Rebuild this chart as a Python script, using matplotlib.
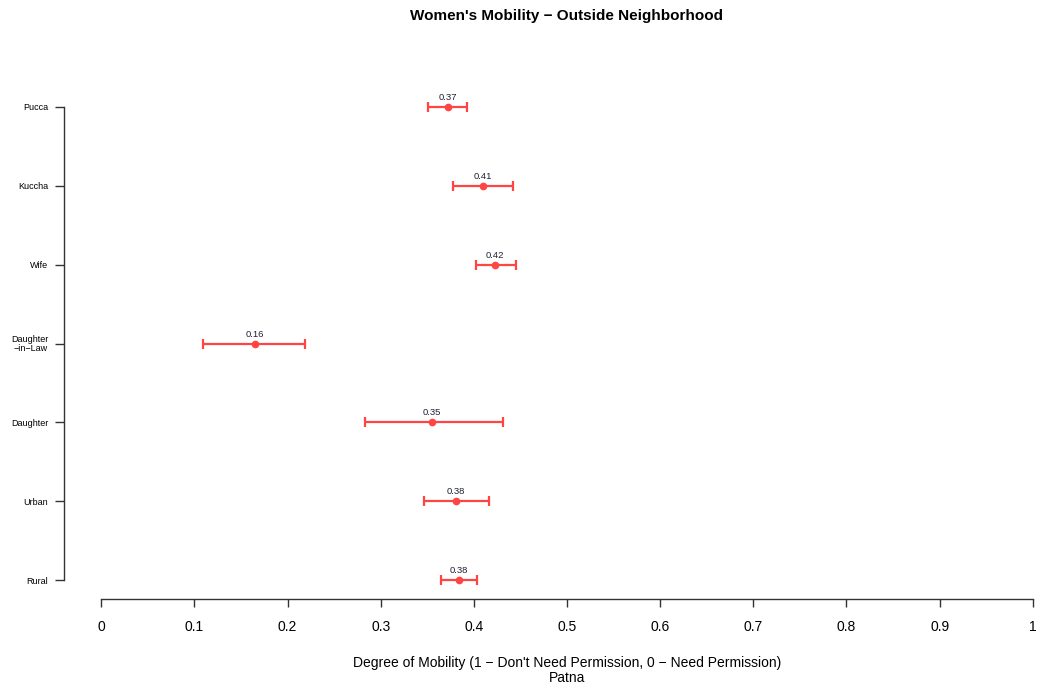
import matplotlib
matplotlib.use("Agg")
import matplotlib.pyplot as plt

plt.rcParams['font.family'] = ['Liberation Sans', 'DejaVu Sans']

categories = ["Rural", "Urban", "Daughter", "Daughter\n\u2212in\u2212Law", "Wife", "Kuccha", "Pucca"]
means = [0.384, 0.381, 0.355, 0.165, 0.423, 0.410, 0.372]
lower = [0.365, 0.346, 0.283, 0.109, 0.402, 0.378, 0.351]
upper = [0.403, 0.416, 0.431, 0.219, 0.445, 0.442, 0.393]
value_labels = ["0.38", "0.38", "0.35", "0.16", "0.42", "0.41", "0.37"]
xticks = [0, 0.1, 0.2, 0.3, 0.4, 0.5, 0.6, 0.7, 0.8, 0.9, 1]
xtick_labels = ["0", "0.1", "0.2", "0.3", "0.4", "0.5", "0.6", "0.7", "0.8", "0.9", "1"]

W, H = 1039, 685
fig = plt.figure(figsize=(W / 100, H / 100), dpi=100)
ax = fig.add_axes([64 / W, (H - 599) / H, 1006 / W, (599 - 88) / H])

ypos = list(range(1, len(categories) + 1))
red = '#ff4444'
for y, m, lo, hi, lab in zip(ypos, means, lower, upper, value_labels):
    ax.errorbar([m], [y], xerr=[[m - lo], [hi - m]], fmt='o', color=red,
                ms=4.5, elinewidth=1.6, capsize=3.4, capthick=1.6)
    ax.annotate(lab, (m, y), xytext=(0, 3.5), textcoords='offset points',
                ha='center', va='bottom', fontsize=6.8, color='#1f2233')

for s in ['top', 'right']:
    ax.spines[s].set_visible(False)
ax.spines['left'].set_position(('data', -0.04))
ax.spines['left'].set_bounds(1, 7)
ax.spines['bottom'].set_bounds(0, 1)
for s in ['left', 'bottom']:
    ax.spines[s].set_color('#333333')
    ax.spines[s].set_linewidth(1.0)

ax.set_xlim(-0.04, 1.04)
ax.set_ylim(0.76, 7.24)
ax.set_yticks(ypos)
ax.set_yticklabels(categories, ha='right', linespacing=0.95)
ax.set_xticks(xticks)
ax.set_xticklabels(xtick_labels)
ax.tick_params(axis='y', length=6.5, width=1.0, color='#333333', pad=5, labelsize=6.5)
ax.tick_params(axis='x', length=6, width=1.0, color='#333333', pad=9, labelsize=10)

ax.set_xlabel("Degree of Mobility (1 \u2212 Don't Need Permission, 0 \u2212 Need Permission)\nPatna",
              fontsize=10, labelpad=16, linespacing=1.05)
fig.text(567 / W, 1 - 16 / H, "Women's Mobility \u2212 Outside Neighborhood",
         ha='center', va='center', fontsize=11, fontweight='bold')

fig.savefig("out.png", dpi=100)
